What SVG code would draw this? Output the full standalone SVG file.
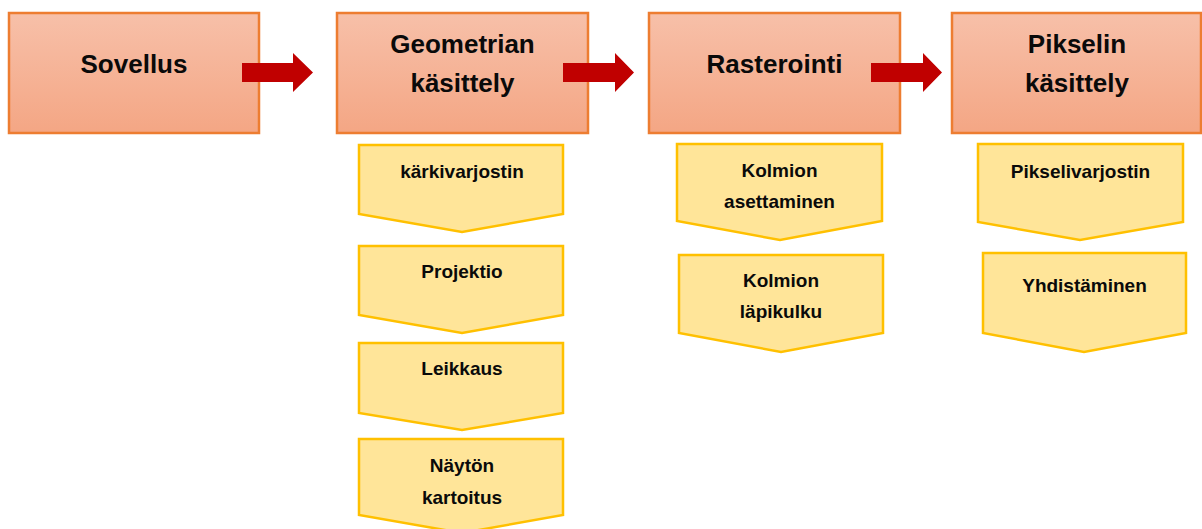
<svg xmlns="http://www.w3.org/2000/svg" width="1202" height="529" viewBox="0 0 1202 529">
<defs>
<linearGradient id="og" x1="0" y1="0" x2="0" y2="1">
<stop offset="0" stop-color="#F7C0A9"/>
<stop offset="1" stop-color="#F4A684"/>
</linearGradient>
<style>
.stage{fill:url(#og);stroke:#ED7D31;stroke-width:2.5}
.step{fill:#FFE599;stroke:#FFC000;stroke-width:2.5;stroke-linejoin:miter}
.arrow{fill:#C00000}
.big{font-family:"Liberation Sans",Arial,sans-serif;font-weight:bold;font-size:26px;fill:#0a0a0a;text-anchor:middle}
.small{font-family:"Liberation Sans",Arial,sans-serif;font-weight:bold;font-size:19px;fill:#0a0a0a;text-anchor:middle}
</style>
</defs>
<rect width="1202" height="529" fill="#fff"/>

<g id="sovellus">
<rect class="stage" x="9" y="13" width="250" height="120"/>
<text class="big" x="134" y="73">Sovellus</text>
</g>
<g id="geometria">
<rect class="stage" x="337" y="13" width="251" height="120"/>
<text class="big" x="462.5" y="53">Geometrian</text>
<text class="big" x="462.5" y="92">käsittely</text>
</g>
<g id="rasterointi">
<rect class="stage" x="649" y="13" width="251" height="120"/>
<text class="big" x="774.5" y="73">Rasterointi</text>
</g>
<g id="pikseli">
<rect class="stage" x="952" y="13" width="249" height="120"/>
<text class="big" x="1077" y="53">Pikselin</text>
<text class="big" x="1077" y="92">käsittely</text>
</g>

<g id="connectors">
<polygon class="arrow" points="242,63 293,63 293,53 313,72.5 293,92 293,82 242,82"/>
<polygon class="arrow" points="563,63 615,63 615,53 634,72.5 615,92 615,82 563,82"/>
<polygon class="arrow" points="871,63 923,63 923,53 942,72.5 923,92 923,82 871,82"/>
</g>

<g id="karkivarjostin">
<polygon class="step" points="359,145 563,145 563,214 462,232 359,214"/>
<text class="small" x="462" y="178">kärkivarjostin</text>
</g>
<g id="projektio">
<polygon class="step" points="359,246 563,246 563,315 462,333 359,315"/>
<text class="small" x="462" y="278">Projektio</text>
</g>
<g id="leikkaus">
<polygon class="step" points="359,343 563,343 563,413 462,430 359,413"/>
<text class="small" x="462" y="375">Leikkaus</text>
</g>
<g id="naytonkartoitus">
<polygon class="step" points="359,439 563,439 563,515 462,533 359,515"/>
<text class="small" x="462" y="472">Näytön</text>
<text class="small" x="462" y="504">kartoitus</text>
</g>

<g id="kolmionasettaminen">
<polygon class="step" points="677,144 882,144 882,221 780,240 677,221"/>
<text class="small" x="779.5" y="177">Kolmion</text>
<text class="small" x="779.5" y="208">asettaminen</text>
</g>
<g id="kolmionlapikulku">
<polygon class="step" points="679,255 883,255 883,333 781,352 679,333"/>
<text class="small" x="781" y="287">Kolmion</text>
<text class="small" x="781" y="318">läpikulku</text>
</g>

<g id="pikselivarjostin">
<polygon class="step" points="978,144 1183,144 1183,222 1080,240 978,222"/>
<text class="small" x="1080.5" y="178">Pikselivarjostin</text>
</g>
<g id="yhdistaminen">
<polygon class="step" points="983,253 1186,253 1186,333 1084,352 983,333"/>
<text class="small" x="1084.5" y="292">Yhdistäminen</text>
</g>
</svg>
